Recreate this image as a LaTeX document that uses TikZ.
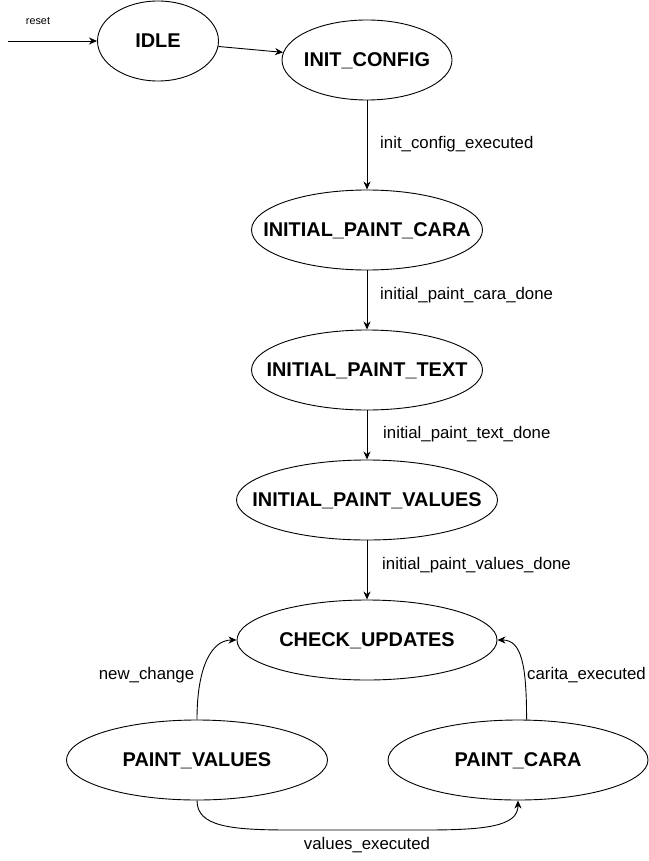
\documentclass[tikz,border=0pt]{standalone}
\usepackage{fontspec}
\setmainfont{Liberation Sans}
\usetikzlibrary{shapes.geometric,arrows.meta}
\begin{document}
\begin{tikzpicture}[x=1pt,y=-1pt,
  state/.style={draw, ellipse, line width=0.9pt, inner sep=0pt, minimum height=80pt,
    text height=13pt, text depth=0pt,
    font=\fontsize{19.9}{22}\selectfont\bfseries},
  lbl/.style={inner sep=0pt, font=\fontsize{16.8}{19}\selectfont},
  edge/.style={draw, line width=0.9pt, -{Stealth[length=8pt,width=7pt,inset=2.5pt]}}]
\useasboundingbox (0,0) rectangle (648,861);
% states
\node[state, minimum width=121pt] (idle) at (158,41) {\makebox[0pt]{IDLE}};
\node[state, minimum width=170pt] (init) at (367,60) {\makebox[0pt]{INIT\_CONFIG}};
\node[state, minimum width=231pt] (ipc) at (367,230) {\makebox[0pt]{INITIAL\_PAINT\_CARA}};
\node[state, minimum width=231pt] (ipt) at (367,370) {\makebox[0pt]{INITIAL\_PAINT\_TEXT}};
\node[state, minimum width=261pt] (ipv) at (367,500) {\makebox[0pt]{INITIAL\_PAINT\_VALUES}};
\node[state, minimum width=260pt] (cu) at (367,640) {\makebox[0pt]{CHECK\_UPDATES}};
\node[state, minimum width=261pt] (pv) at (197,760) {\makebox[0pt]{PAINT\_VALUES}};
\node[state, minimum width=260pt] (pc) at (518,760) {\makebox[0pt]{PAINT\_CARA}};
% reset
\coordinate (rs) at (8,41);
\draw[edge] (rs) -- (idle.west);
\node[inner sep=0pt, font=\fontsize{10.8}{12}\selectfont] (resetlbl) at (38,21) {reset};
% straight transitions
\draw[edge] (idle) -- (init);
\draw[edge] (init.south) -- (ipc.north);
\draw[edge] (ipc.south) -- (ipt.north);
\draw[edge] (ipt.south) -- (ipv.north);
\draw[edge] (ipv.south) -- (cu.north);
\node[lbl, anchor=west] (l1) at (380,144) {init\_config\_executed};
\node[lbl, anchor=west] (l2) at (380,295) {initial\_paint\_cara\_done};
\node[lbl, anchor=west] (l3) at (383,434) {initial\_paint\_text\_done};
\node[lbl, anchor=west] (l4) at (382,565) {initial\_paint\_values\_done};
% curved transitions
\draw[edge] (pv.north) .. controls +(0,-55) and +(-24,0) .. (cu.west);
\node[lbl] (l5) at (146.5,675) {new\_change};
\draw[edge] (pc.78) .. controls +(0,-55) and +(24,0) .. (cu.east);
\node[lbl] (l6) at (586.5,675) {carita\_executed};
\coordinate (ve1) at (290,830);
\coordinate (ve2) at (425,830);
\draw[edge] (pv.south) .. controls +(0,26) and +(-60,0) .. (ve1) -- (ve2) .. controls +(60,0) and +(0,26) .. (pc.south);
\node[lbl] (l7) at (367,845) {values\_executed};
\end{tikzpicture}
\end{document}
